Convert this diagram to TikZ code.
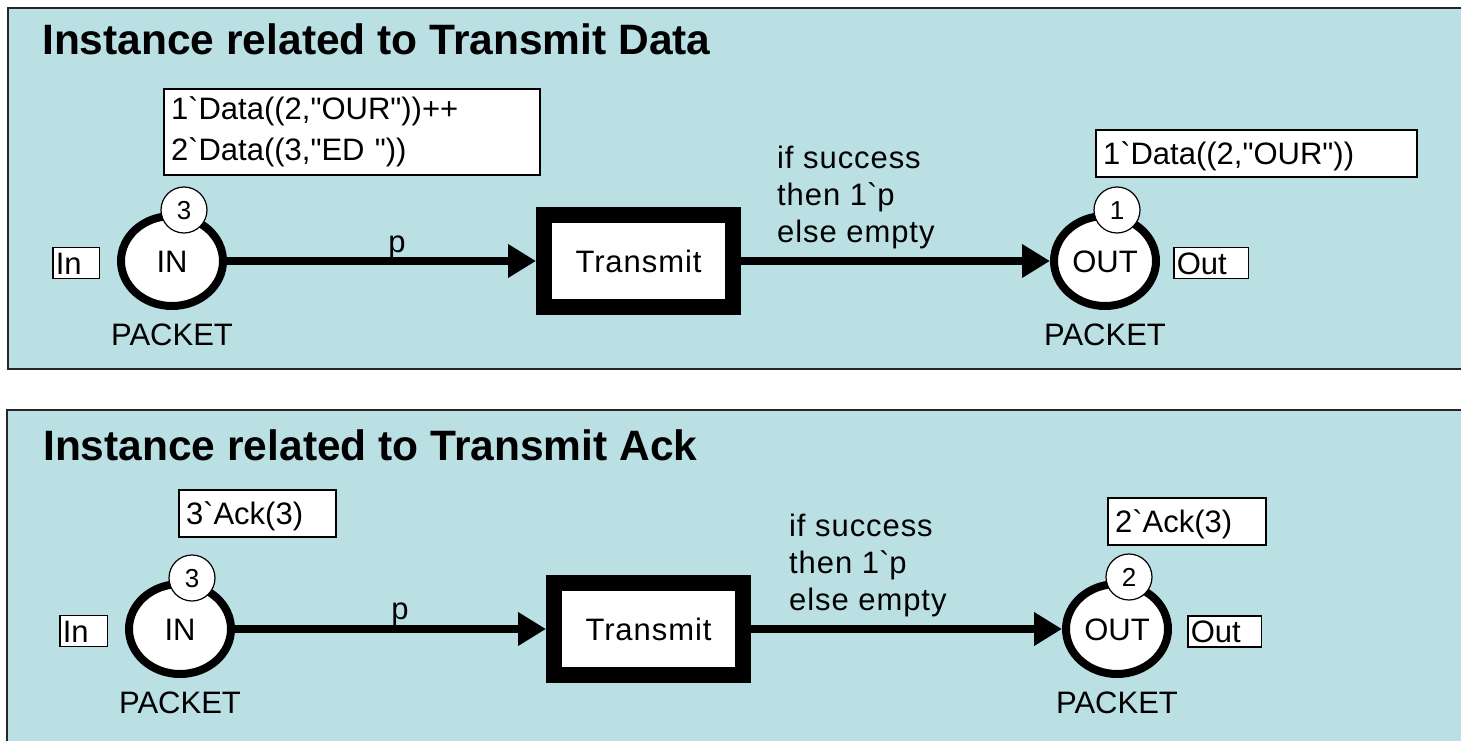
\documentclass[tikz,border=0pt]{standalone}
\usepackage{fontspec}
\setmainfont{Liberation Sans}
\newfontfamily\cpnfam{Liberation Sans}
\usetikzlibrary{arrows.meta}
\usetikzlibrary{positioning}
\usetikzlibrary{shapes.geometric}

\definecolor{pagebg}{RGB}{186,224,228}
\newcommand\cpnfont{\cpnfam\fontsize{31pt}{37pt}\selectfont}
\newcommand\tokfont{\cpnfam\fontsize{26pt}{30pt}\selectfont}
\newcommand\ttlfont{\cpnfam\fontsize{42.5pt}{48pt}\selectfont\bfseries}
\newcommand\bqt{\textasciigrave}

\begin{document}
\begin{tikzpicture}[
    x=1pt, y=-1pt,
    >={Triangle[length=28pt,width=32pt]},
    every node/.style={font=\cpnfont}
  ]

  % styles
  \tikzstyle{panel}=[draw=black!85, line width=2.5pt, fill=pagebg]
  \tikzstyle{title}=[anchor=base west, inner sep=0pt, font=\ttlfont]
  \tikzstyle{place}=[ellipse, draw, line width=8pt, fill=white, minimum width=102pt, minimum height=90pt, inner sep=0pt, text height=22pt, text depth=0pt]
  \tikzstyle{token}=[circle, draw, line width=1.2pt, fill=white, minimum size=46pt, inner sep=0pt, font=\tokfont, text height=18.6pt, text depth=0pt]
  \tikzstyle{trans}=[rectangle, draw, line width=16pt, fill=white, minimum width=189pt, minimum height=92pt, inner sep=0pt, text height=22pt, text depth=0pt, font=\cpnfont\addfontfeature{LetterSpace=3}]
  \tikzstyle{port}=[rectangle, draw, line width=1.5pt, fill=white, inner xsep=3pt, inner ysep=0pt, minimum height=31pt, align=left, text height=22pt, text depth=0pt]
  \tikzstyle{marking}=[rectangle, draw, line width=2pt, fill=white, inner xsep=7pt, inner ysep=0pt, align=left]
  \tikzstyle{colset}=[inner sep=0pt, text height=22pt, text depth=0pt]
  \tikzstyle{inscr}=[anchor=north west, inner sep=0pt, align=left, font=\cpnfont\addfontfeature{LetterSpace=3}]
  \tikzstyle{arcline}=[->, line width=7.5pt]

  \useasboundingbox (0,0) rectangle (1461,741);
  \clip (0,0) rectangle (1461,741);

  % panels
  \draw[panel] (8,8) rectangle (1475,369);
  \draw[panel] (7,410) rectangle (1475,760);

  % --- Transmit Data ---
  \node[title] (ttl1) at (42,55) {Instance related to Transmit Data};

  \node[place] (in1) at (172,261) {IN};
  \node[token] (tk1) at (184,210) {3};
  \node[port, text width=40.5pt] (pin1) at (76,263) {In};
  \node[colset] (cs1) at (172,334) {PACKET};
  \node[marking, text width=362pt, minimum height=86pt, text height=22pt,
        font=\cpnfam\fontsize{31pt}{41pt}\selectfont] (m1) at (352,132)
       {1\bqt Data((2,"OUR"))++\\2\bqt Data((3,"ED "))};

  \node[trans] (tr1) at (638.5,261) {Transmit};

  \node[place] (out1) at (1105,261) {OUT};
  \node[token] (tk2) at (1117,210) {1};
  \node[port, text width=68.5pt] (pout1) at (1211,263) {Out};
  \node[colset] (cs2) at (1105,334) {PACKET};
  \node[marking, text width=307pt, minimum height=47pt, text height=22pt, text depth=0pt] (m2) at (1256.5,153.5)
       {1\bqt Data((2,"OUR"))};

  % arcs
  \draw[arcline] (in1) -- (tr1);
  \node[anchor=base] (lp1) at (397,252) {p};
  \draw[arcline] (tr1) -- (out1);
  \node[inscr] (lo1) at (777,146) {if success\\then 1\bqt p\\else empty};

  % --- Transmit Ack ---
  \node[title] (ttl2) at (43,460) {Instance related to Transmit Ack};

  \node[place] (in2) at (180,629) {IN};
  \node[token] (tk3) at (192,578) {3};
  \node[port, text width=41.5pt] (pin2) at (83.5,631) {In};
  \node[colset] (cs3) at (180,702.5) {PACKET};
  \node[marking, text width=143pt, minimum height=47pt, text height=22pt, text depth=0pt] (m3) at (257.5,513.5)
       {3\bqt Ack(3)};

  \node[trans] (tr2) at (648.5,629) {Transmit};

  \node[place] (out2) at (1117,629) {OUT};
  \node[token] (tk4) at (1129,577) {2};
  \node[port, text width=67.5pt] (pout2) at (1224.5,631.5) {Out};
  \node[colset] (cs4) at (1117,702.5) {PACKET};
  \node[marking, text width=144pt, minimum height=47pt, text height=22pt, text depth=0pt] (m4) at (1187,521.5)
       {2\bqt Ack(3)};

  % arcs
  \draw[arcline] (in2) -- (tr2);
  \node[anchor=base] (lp2) at (400,619) {p};
  \draw[arcline] (tr2) -- (out2);
  \node[inscr] (lo2) at (789,514) {if success\\then 1\bqt p\\else empty};

\end{tikzpicture}
\end{document}
